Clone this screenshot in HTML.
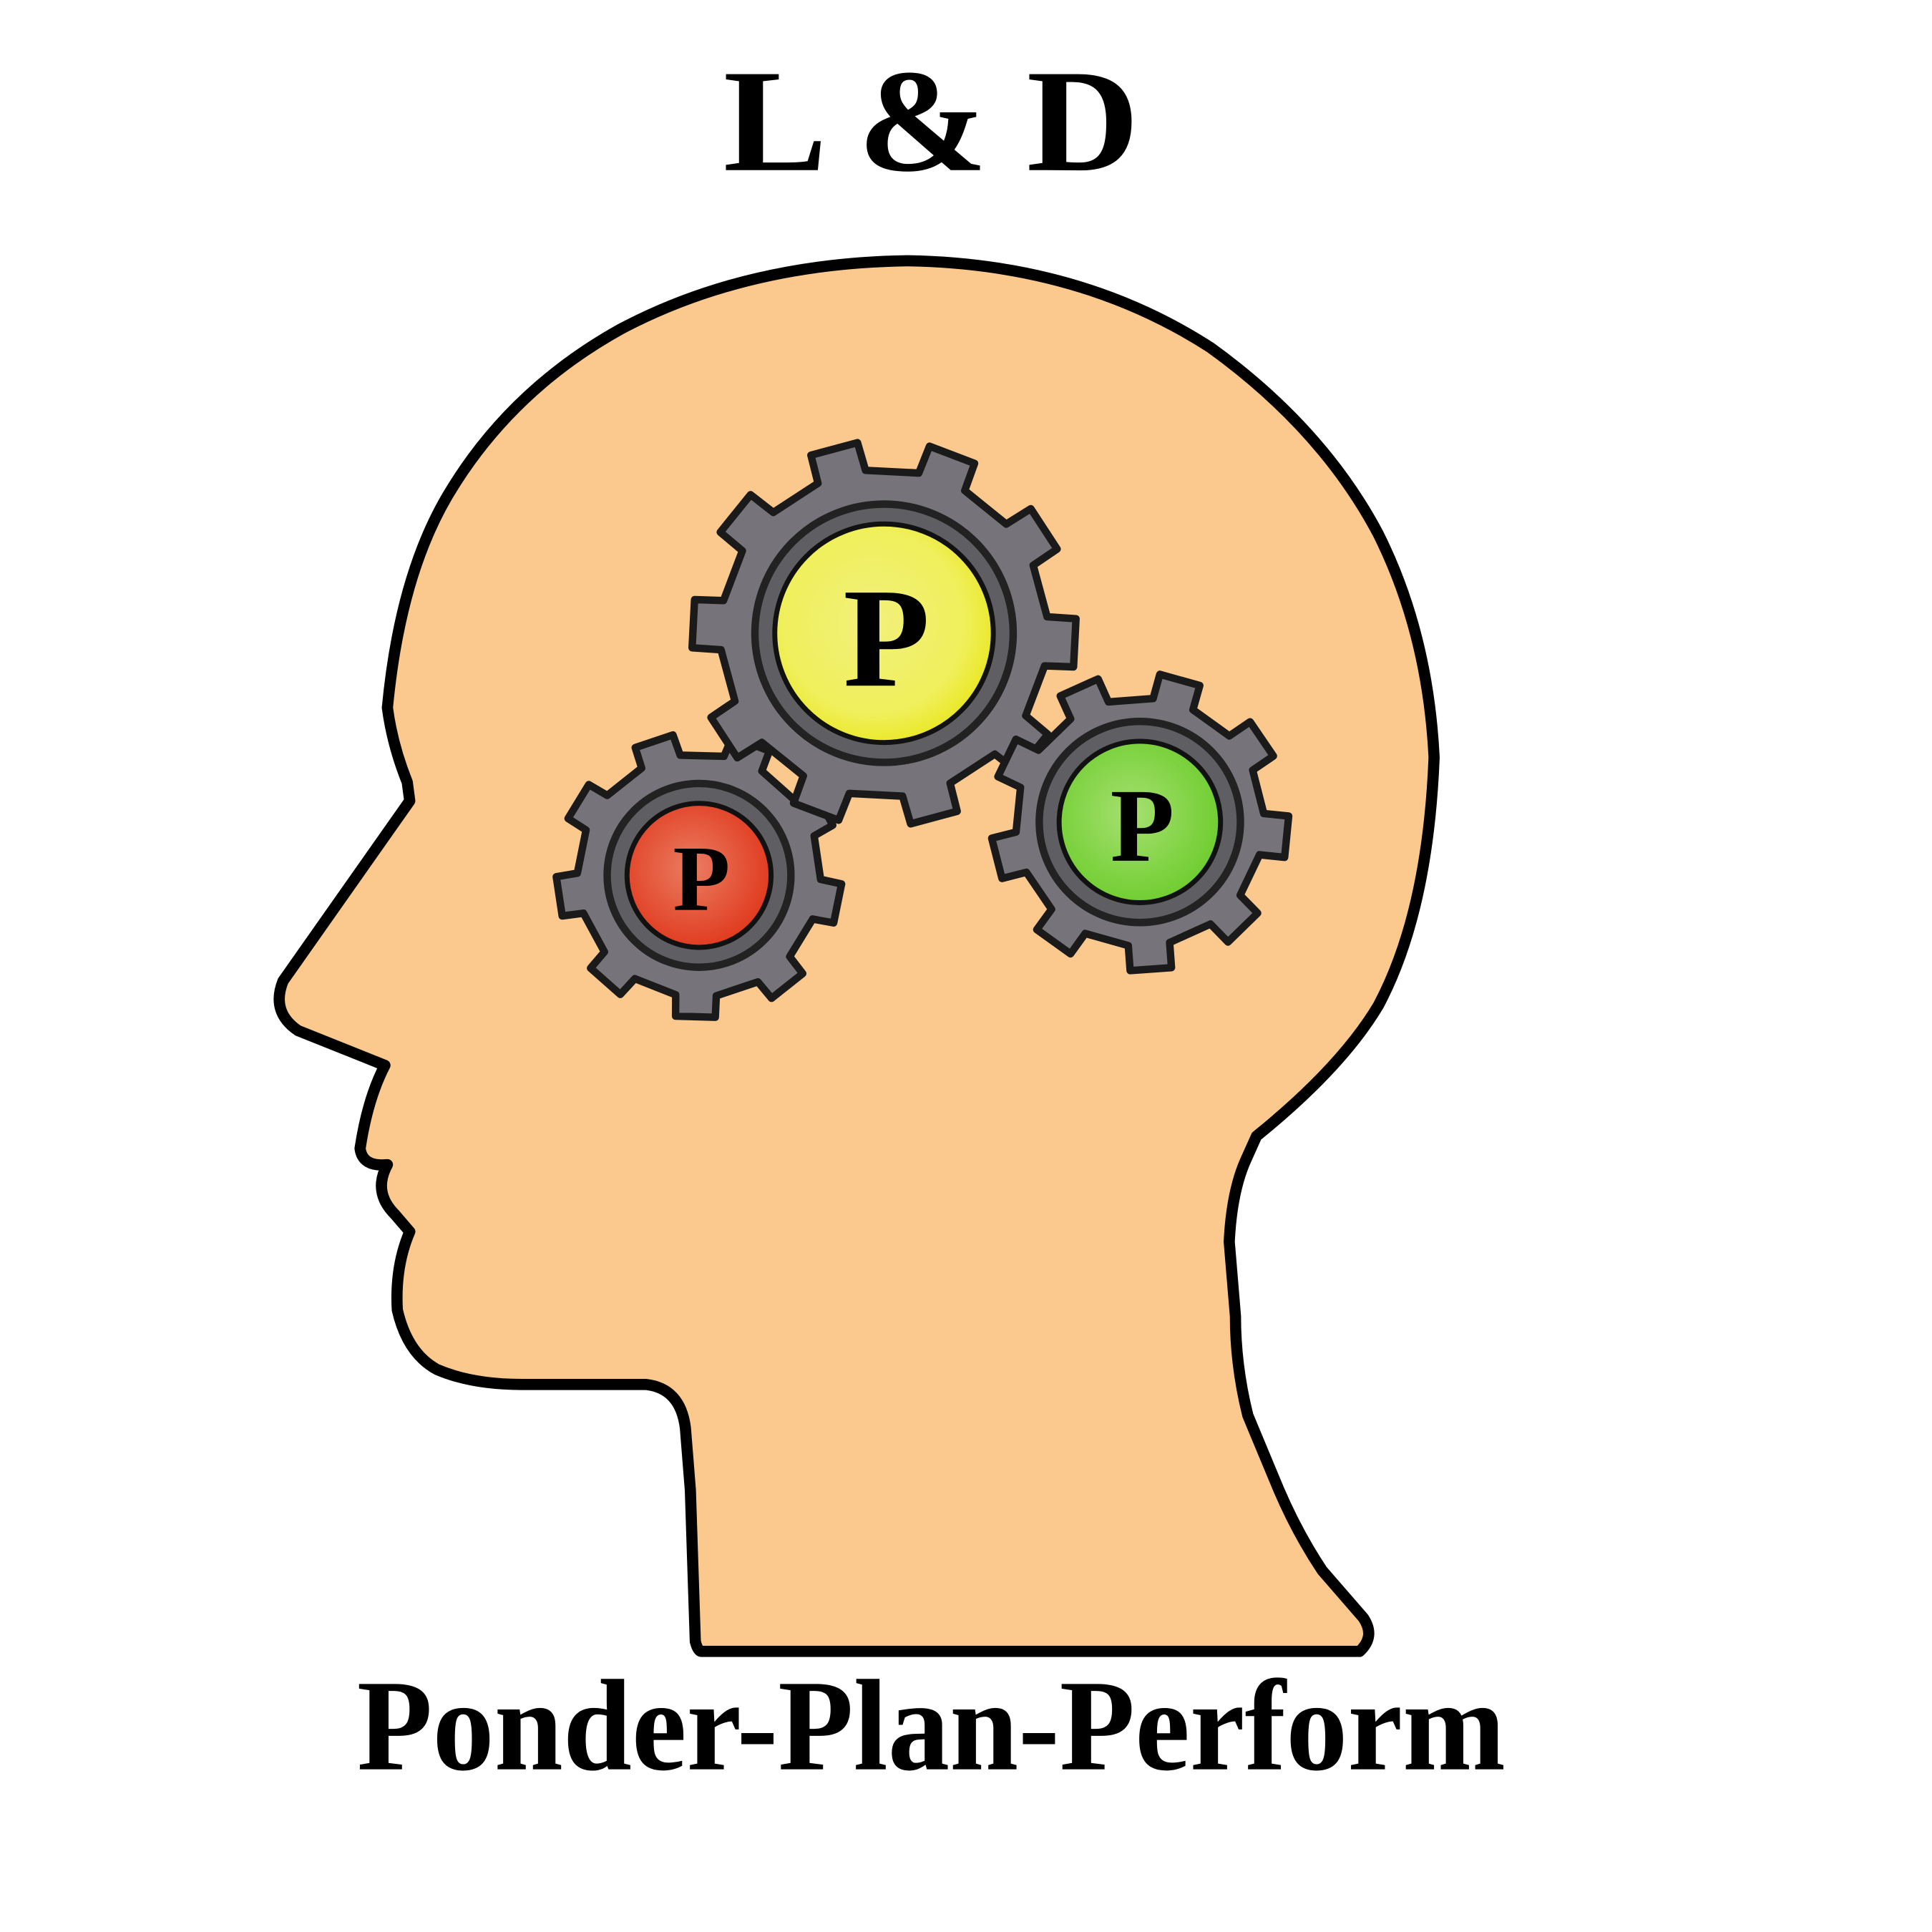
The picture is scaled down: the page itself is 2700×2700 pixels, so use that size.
<!DOCTYPE html>
<html><head><meta charset="utf-8"><style>
html,body{margin:0;padding:0;background:#fff;width:2700px;height:2700px;overflow:hidden}
svg{display:block}
</style></head><body>
<svg id="s" width="2700" height="2700" viewBox="0 0 1556 1556" xmlns="http://www.w3.org/2000/svg">
<defs>
<radialGradient id="gy" cx="45%" cy="45%" r="60%"><stop offset="0" stop-color="#f2f07a"/><stop offset="0.7" stop-color="#f0ef5c"/><stop offset="1" stop-color="#e8e61a"/></radialGradient>
<radialGradient id="gr" cx="45%" cy="45%" r="60%"><stop offset="0" stop-color="#ea7d62"/><stop offset="1" stop-color="#e0361a"/></radialGradient>
<radialGradient id="gg" cx="45%" cy="45%" r="60%"><stop offset="0" stop-color="#a6e070"/><stop offset="1" stop-color="#6ccc2c"/></radialGradient>
</defs>
<text x="750" y="137" text-anchor="middle" font-family="'Liberation Serif',serif" font-weight="bold" font-size="118" textLength="335" lengthAdjust="spacingAndGlyphs">L &amp; D</text>
<path fill="#fbc98e" stroke="#000" stroke-width="9" stroke-linejoin="round"
d="M565,1330 L1095,1330 Q1108,1318 1098,1303 L1065,1265 Q1045,1235 1030,1200 L1005,1140 Q995,1100 995,1060 L990,1000 Q992,960 1003,935 L1012,915 Q1080,860 1110,810 Q1150,735 1155,610 Q1150,510 1110,430 Q1065,345 975,280 Q870,212 730,210 Q600,212 500,265 Q410,315 360,400 Q322,465 312,570 Q316,600 328,630 L330,645 L228,790 Q218,815 240,830 L310,858 Q296,885 290,925 Q292,940 312,938 Q300,960 318,978 L330,992 Q318,1020 320,1055 Q328,1090 352,1103 Q380,1115 420,1115 L520,1115 Q548,1118 552,1150 L556,1200 L560,1322 Q562,1330 565,1330 Z"/>
<g id="gears"></g>
<text x="750" y="1425" text-anchor="middle" font-family="'Liberation Serif',serif" font-weight="bold" font-size="105" textLength="925" lengthAdjust="spacingAndGlyphs">Ponder-Plan-Perform</text>
</svg>
<script>
const gearsDef=[
 {name:'gear-red',cx:563,cy:705,ro:115,ri:98,n:9,rot:0.2,inner:58,fill:'url(#gr)'},
 {name:'gear-yellow',cx:712,cy:510,ro:155,ri:132,n:10,rot:0.05,inner:88,fill:'url(#gy)'},
 {name:'gear-green',cx:918,cy:662,ro:120,ri:100,n:9,rot:0.1,inner:65,fill:'url(#gg)'}
];
const NS='http://www.w3.org/2000/svg';
const g=document.getElementById('gears');
gearsDef.forEach(d=>{
 const grp=document.createElementNS(NS,'g');
 
 
 let pts=[];
 const step=2*Math.PI/d.n;
 for(let i=0;i<d.n;i++){
  const a=d.rot+i*step;
  const t=step*0.2, b=step*0.24;
  pts.push([a-b,d.ri],[a-t,d.ro],[a+t,d.ro],[a+b,d.ri]);
 }
 const p='M'+pts.map(([a,r])=>(d.cx+r*Math.cos(a)).toFixed(1)+','+(d.cy+r*Math.sin(a)).toFixed(1)).join(' L')+' Z';
 const path=document.createElementNS(NS,'path');
 path.setAttribute('d',p);path.setAttribute('fill','#76747a');path.setAttribute('stroke','#1a1a1a');path.setAttribute('stroke-width','6');path.setAttribute('stroke-linejoin','round');
 
 
 grp.appendChild(path);
 const ring=document.createElementNS(NS,'circle');
 ring.setAttribute('cx',d.cx);ring.setAttribute('cy',d.cy);ring.setAttribute('r',d.inner+16);
 ring.setAttribute('fill','#5f5e63');ring.setAttribute('stroke','#222');ring.setAttribute('stroke-width','6');
 
 
 grp.appendChild(ring);
 const c=document.createElementNS(NS,'circle');
 c.setAttribute('cx',d.cx);c.setAttribute('cy',d.cy);c.setAttribute('r',d.inner);
 c.setAttribute('fill',d.fill);c.setAttribute('stroke','#111');c.setAttribute('stroke-width','4');
 
 
 grp.appendChild(c);
 const t=document.createElementNS(NS,'text');
 t.setAttribute('x',d.cx+2);t.setAttribute('y',d.cy+d.inner*0.48);
 t.setAttribute('text-anchor','middle');t.setAttribute('font-family',"'Liberation Serif',serif");
 t.setAttribute('font-weight','bold');t.setAttribute('font-size',d.inner*1.3);
 t.textContent='P';
 
 
 grp.appendChild(t);
 g.appendChild(grp);
});
</script>
</body></html>
